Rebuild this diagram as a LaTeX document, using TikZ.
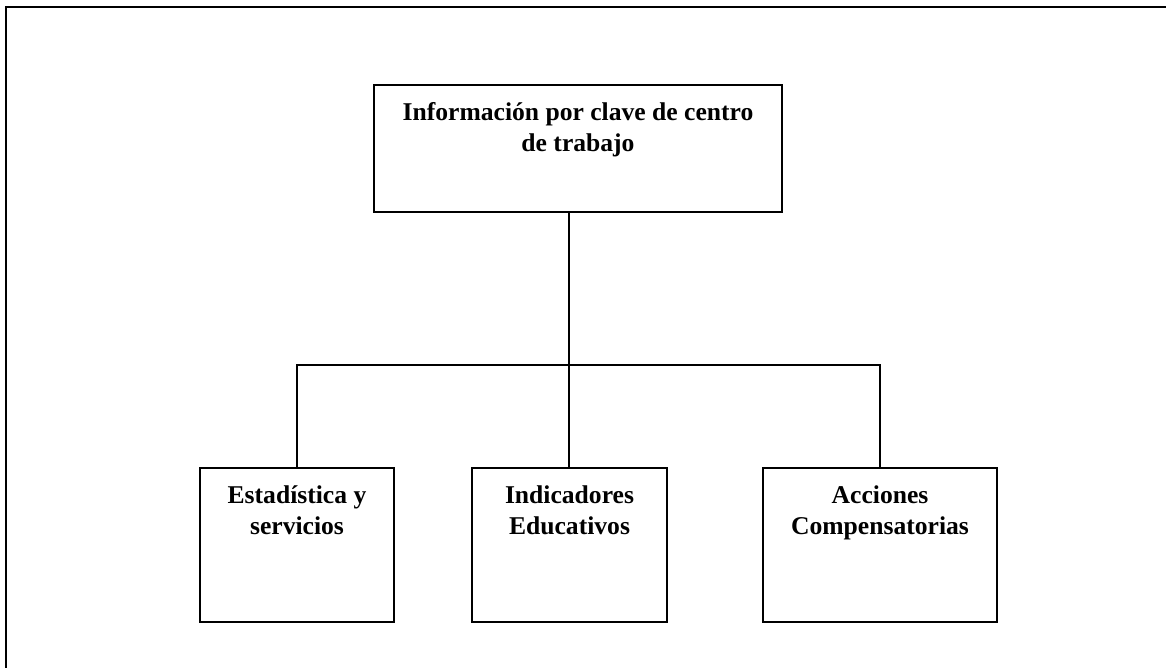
\documentclass[tikz,border=0pt]{standalone}
\usepackage{fontspec}
\setmainfont{Liberation Serif}
\usetikzlibrary{positioning}

\begin{document}
\begin{tikzpicture}[x=0.5pt, y=-0.5pt]
\tikzstyle{caja}=[draw, line width=0.7pt, inner sep=0pt, minimum height=77pt]
\tikzstyle{txt}=[draw=none, fill=none, inner sep=0pt, anchor=north, align=center, font=\fontsize{12.8}{15.5}\selectfont\bfseries]
\useasboundingbox (0,0) rectangle (1166,668);

% marco
\draw[line width=1.1pt] (6,668) -- (6,7) -- (1166,7);

\node[caja, minimum width=204pt, minimum height=63.5pt] (sup) at (578,148.5) {};
\node[caja, minimum width=97pt] (est) at (297,545) {};
\node[caja, minimum width=97.5pt] (ind) at (569.5,545) {};
\node[caja, minimum width=117pt] (comp) at (880,545) {};

\node[txt] (supt) at ([yshift=-9pt]sup.north) {Información por clave de centro\\de trabajo};
\node[txt] (estt) at ([yshift=-9pt]est.north) {Estadística y\\servicios};
\node[txt] (indt) at ([yshift=-9pt]ind.north) {Indicadores\\Educativos};
\node[txt] (compt) at ([yshift=-9pt]comp.north) {Acciones\\Compensatorias};

\coordinate (rama) at (569,365);
\draw[line width=0.7pt] (sup.south -| rama) -- (rama);
\draw[line width=0.7pt] (est.north) |- (rama) -| (comp.north);
\draw[line width=0.7pt] (rama) -- (ind.north -| rama);
\end{tikzpicture}
\end{document}
